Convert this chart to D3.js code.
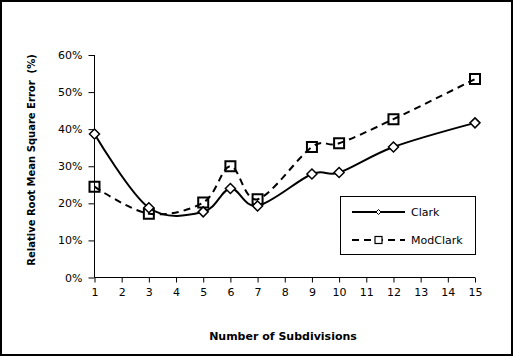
<!DOCTYPE html>
<html><head><meta charset="utf-8">
<script src="https://cdn.jsdelivr.net/npm/d3@7"></script>
<style>body{margin:0;background:#fff}svg{display:block}text{font-family:"DejaVu Sans",Verdana,sans-serif}</style>
</head><body>
<svg id="c" width="513" height="356"></svg>
<script>
const xValues = [1, 3, 5, 6, 7, 9, 10, 12, 15];
const clark = [38.7, 18.8, 17.7, 24.0, 19.3, 27.9, 28.3, 35.2, 41.7];
const modClark = [24.5, 17.2, 20.2, 30.0, 21.1, 35.2, 36.2, 42.7, 53.5];
const xTicks = d3.range(1, 16);
const yTicks = [0, 10, 20, 30, 40, 50, 60];
const seriesNames = ["Clark", "ModClark"];

const svg = d3.select("#c");
svg.append("rect").attr("x",1).attr("y",1).attr("width",511).attr("height",354)
  .attr("fill","#fff").attr("stroke","#000").attr("stroke-width",2);

const x = d3.scaleLinear().domain([1,15]).range([94.5,475]);
const y = d3.scaleLinear().domain([0,60]).range([277.5,55]);

const xAxis = svg.append("g").attr("transform","translate(0,277.5)")
  .call(d3.axisBottom(x).tickValues(xTicks).tickSize(5).tickPadding(6).tickFormat(d3.format("d")));
const yAxis = svg.append("g").attr("transform","translate(94.5,0)")
  .call(d3.axisLeft(y).tickValues(yTicks).tickSize(6).tickPadding(6).tickFormat(d=>d+"%"));
[xAxis,yAxis].forEach(a=>{
  a.selectAll("path,line").attr("stroke","#000").attr("stroke-width",1);
  a.selectAll("text").attr("fill","#000").style("font-size","11px").style("font-family","'DejaVu Sans',sans-serif");
});
xAxis.select(".domain").attr("d","M94.5,0H475");
yAxis.select(".domain").attr("d","M0,55V277.5");

const line = d3.line().x(d=>x(d[0])).y(d=>y(d[1])).curve(d3.curveCardinal.tension(0));
const clarkPts = xValues.map((v,i)=>[v,clark[i]]);
const modPts = xValues.map((v,i)=>[v,modClark[i]]);

svg.append("path").datum(modPts).attr("d",line).attr("fill","none").attr("stroke","#000")
  .attr("stroke-width",2).attr("stroke-dasharray","7,5");
svg.append("path").datum(clarkPts).attr("d",line).attr("fill","none").attr("stroke","#000")
  .attr("stroke-width",2);

const diamond = (cx,cy,r)=>`M${cx},${cy-r}L${cx+r},${cy}L${cx},${cy+r}L${cx-r},${cy}Z`;
svg.append("g").selectAll("path").data(modPts).join("path")
  .attr("d",d=>{const cx=x(d[0]),cy=y(d[1]),s=5;return `M${cx-s},${cy-s}h${2*s}v${2*s}h${-2*s}Z`;})
  .attr("fill","none").attr("stroke","#000").attr("stroke-width",2);
svg.append("g").selectAll("path").data(clarkPts).join("path")
  .attr("d",d=>diamond(x(d[0]),y(d[1]),5)).attr("fill","#fff").attr("stroke","#000").attr("stroke-width",1.5);

// legend
const lg = svg.append("g");
lg.append("rect").attr("x",340.5).attr("y",196.5).attr("width",135).attr("height",58)
  .attr("fill","#fff").attr("stroke","#000").attr("stroke-width",1);
lg.append("line").attr("x1",352).attr("x2",405).attr("y1",212).attr("y2",212).attr("stroke","#000").attr("stroke-width",2);
lg.append("path").attr("d",diamond(378.5,212,2.5)).attr("fill","#fff").attr("stroke","#000").attr("stroke-width",1);
lg.append("line").attr("x1",352).attr("x2",405).attr("y1",240).attr("y2",240).attr("stroke","#000").attr("stroke-width",2).attr("stroke-dasharray","7,5");
lg.append("rect").attr("x",375).attr("y",236.5).attr("width",7).attr("height",7).attr("fill","#fff").attr("stroke","#000").attr("stroke-width",1.2);
lg.selectAll("text.l").data(seriesNames).join("text").attr("class","l")
  .attr("x",411).attr("y",(d,i)=>216+i*28).style("font-size","11px").text(d=>d);

svg.append("text").attr("x",283).attr("y",340).attr("text-anchor","middle")
  .style("font-size","11px").style("font-weight","bold").text("Number of Subdivisions");
svg.append("text").attr("transform","translate(35,160) rotate(-90)").attr("text-anchor","middle")
  .style("font-size","10px").style("font-weight","bold").attr("xml:space","preserve")
  .text("Relative Root Mean Square Error  (%)");
</script>
</body></html>
